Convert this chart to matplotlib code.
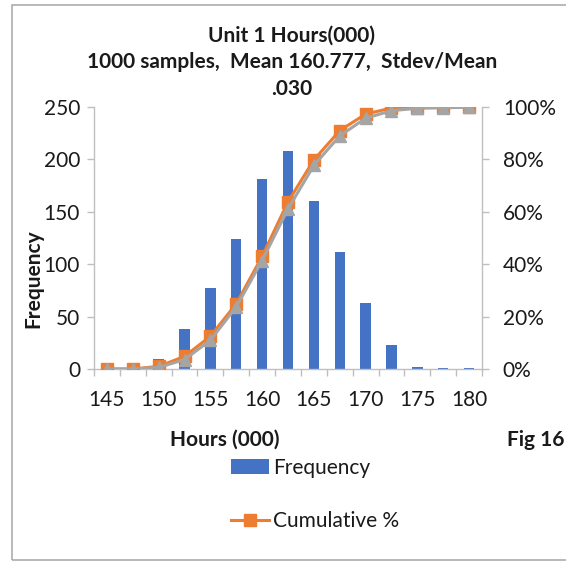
import matplotlib
matplotlib.use("Agg")
import matplotlib.pyplot as plt
from matplotlib.patches import Rectangle
from matplotlib.ticker import FixedLocator, PercentFormatter

plt.rcParams['font.family'] = ['Lato', 'DejaVu Sans']

# histogram bins (thousand hours) and counts
hours = [145, 147.5, 150, 152.5, 155, 157.5, 160, 162.5, 165, 167.5, 170, 172.5, 175, 177.5, 180]
freq = [0, 0, 10, 38, 77, 124, 181, 208, 160, 112, 63, 23, 2, 1, 1]
# running total of the samples, percent
cum_pct = [0, 0, 1.0, 4.8, 12.5, 24.9, 43.0, 63.8, 79.8, 91.0, 97.3, 99.6, 99.8, 99.9, 100.0]
# fitted curve, percent
fit_pct = [0, 0, 0.6, 3.6, 11.0, 23.7, 41.4, 61.1, 77.7, 89.0, 95.7, 98.6, 99.5, 99.7, 99.9]
tick_labels = ['145', '150', '155', '160', '165', '170', '175', '180']

W, H = 566, 561
fig = plt.figure(figsize=(W / 100, H / 100), dpi=100)

def fx(px):
    return px / W

def fy(py):
    return 1 - py / H

ax = fig.add_axes([fx(94), fy(369), fx(482) - fx(94), fy(107) - fy(369)])
ax2 = ax.twinx()

blue = '#4472C4'
orange = '#ED7D31'
grey = '#A5A5A5'
axis_col = '#BFBFBF'
txt = '#1a1a1a'
fs = 15

x = list(range(len(hours)))
bars = ax.bar(x, freq, width=0.4, color=blue, label='Frequency', zorder=2)
cum_line, = ax2.plot(x, [v / 100 for v in cum_pct], color=orange, lw=2.2,
                     marker='s', ms=8.5, mec=orange, mfc=orange, label='Cumulative %')
ax2.plot(x, [v / 100 for v in fit_pct], color=grey, lw=2.2,
         marker='^', ms=8.5, mec=grey, mfc=grey, label='_nolegend_')

ax.set_xlim(-0.5, len(hours) - 0.5)
ax.set_ylim(0, 250)
ax2.set_ylim(0, 1)
ax.set_yticks(range(0, 251, 50))
ax2.set_yticks([0, 0.2, 0.4, 0.6, 0.8, 1.0])
ax2.yaxis.set_major_formatter(PercentFormatter(1.0, decimals=0))

# labels every other bin, tick marks on bin edges
ax.set_xticks(x[::2])
ax.set_xticklabels(tick_labels)
ax.xaxis.set_minor_locator(FixedLocator([i - 0.5 for i in range(len(hours) + 1)]))
ax.tick_params(axis='x', which='major', length=0, pad=15, labelsize=fs, labelcolor=txt)
ax.tick_params(axis='x', which='minor', length=5, width=1, color=axis_col)
ax.tick_params(axis='y', length=5, width=1, color=axis_col, pad=5, labelsize=fs, labelcolor=txt)
ax2.tick_params(axis='y', length=5, width=1, color=axis_col, pad=10, labelsize=fs, labelcolor=txt)

for a in (ax, ax2):
    a.spines['top'].set_visible(False)
    for s in ('left', 'right', 'bottom'):
        a.spines[s].set_color(axis_col)
        a.spines[s].set_linewidth(1)
ax.spines['right'].set_visible(False)
ax2.spines['left'].set_visible(False)
ax2.spines['bottom'].set_visible(False)

# titles and axis captions
title_lines = ['Unit 1 Hours(000)', '1000 samples,  Mean 160.777,  Stdev/Mean', '.030']
for line, py in zip(title_lines, [36, 62, 89]):
    fig.text(fx(292), fy(py), line, ha='center', va='center', fontsize=fs,
             fontweight='bold', color=txt)
fig.text(fx(225), fy(440), 'Hours (000)', ha='center', va='center', fontsize=fs,
         fontweight='bold', color=txt)
fig.text(fx(536), fy(440), 'Fig 16', ha='center', va='center', fontsize=fs,
         fontweight='bold', color=txt)
fig.text(fx(33), fy(279), 'Frequency', ha='center', va='center', rotation=90,
         fontsize=fs, fontweight='bold', color=txt)

fig.legend([bars, cum_line], ['Frequency', 'Cumulative %'], loc='upper left',
           bbox_to_anchor=(fx(231), fy(458)), frameon=False, fontsize=fs,
           borderpad=0, borderaxespad=0, handlelength=1.8, handletextpad=0.2,
           labelspacing=1.6, numpoints=1, labelcolor=txt)

# chart border
fig.add_artist(Rectangle((fx(11.5), fy(559.5)), fx(600), fy(4.5) - fy(559.5),
                         transform=fig.transFigure, fill=False,
                         edgecolor='#A6A6A6', lw=1.1))

fig.savefig('out.png', dpi=100)
